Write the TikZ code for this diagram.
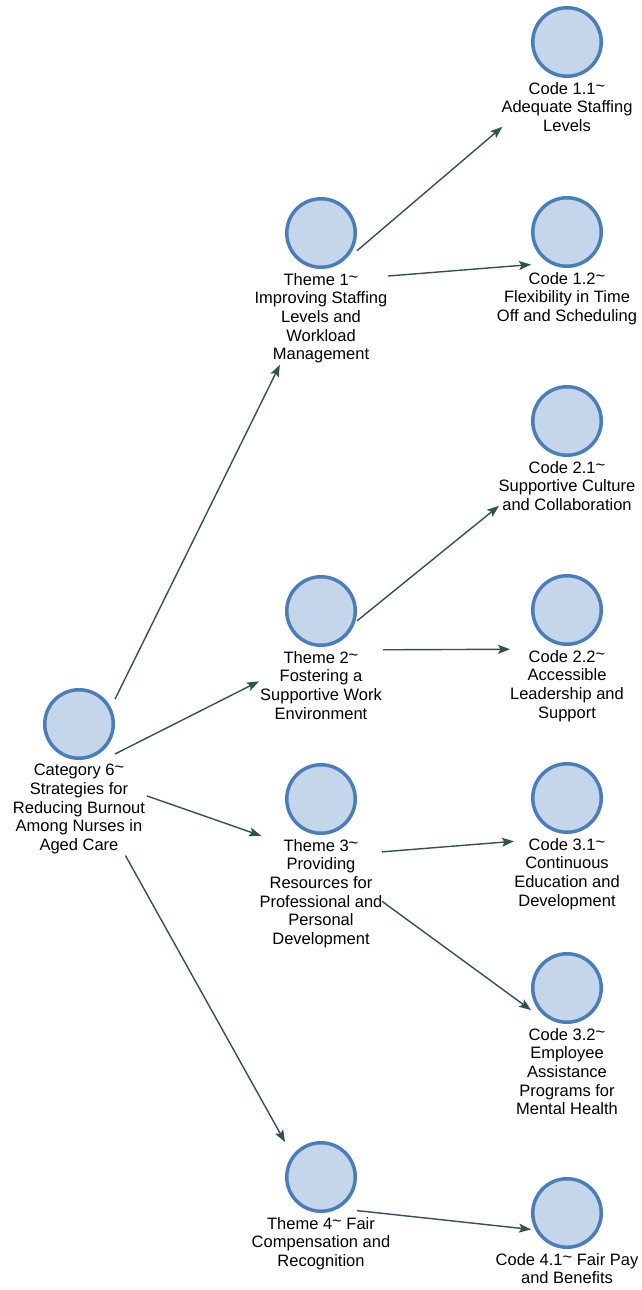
\documentclass[tikz,border=0pt]{standalone}
\usepackage{fontspec}
\setmainfont{Liberation Sans}
\usetikzlibrary{arrows.meta,fit}
\definecolor{dotfill}{RGB}{197,214,234}
\definecolor{dotline}{RGB}{74,126,187}
\definecolor{linkcol}{RGB}{47,82,82}
% raised tilde used after each heading
\newcommand\tld{\raisebox{.18em}{\textasciitilde}}
% circle + caption, grouped into one named node
\newcommand\codenode[4]{%
  \node[dot] (#1d) at (#2,#3) {};
  \node[lbl] (#1l) at (#2,#3+40) {#4\strut};
  \node[fit={(#1d)(#1l)}, inner sep=0pt] (#1) {};}
\begin{document}
\begin{tikzpicture}[x=1pt,y=-1pt,
  dot/.style={circle, draw=dotline, fill=dotfill, line width=3.5pt,
              minimum size=68.5pt, inner sep=0pt},
  lbl/.style={anchor=north, align=center, inner sep=0pt,
              font=\fontsize{16.5}{18.7}\selectfont},
  link/.style={draw=linkcol, line width=1.4pt,
               -{Stealth[length=12pt,width=9pt,inset=2.5pt]}}]
\useasboundingbox (0,0) rectangle (641,1290);

% category
\codenode{cat}{79}{724}{Category 6\tld\\Strategies for\\Reducing Burnout\\Among Nurses in\\Aged Care}

% themes
\codenode{t1}{321}{233}{Theme 1\tld\\Improving Staffing\\Levels and\\Workload\\Management}
\codenode{t2}{321}{611}{Theme 2\tld\\Fostering a\\Supportive Work\\Environment}
\codenode{t3}{321}{799}{Theme 3\tld\\Providing\\Resources for\\Professional and\\Personal\\Development}
\codenode{t4}{321}{1177}{Theme 4\tld{} Fair\\Compensation and\\Recognition}

% codes
\codenode{c11}{567}{42}{Code 1.1\tld\\Adequate Staffing\\Levels}
\codenode{c12}{567}{232}{Code 1.2\tld\\Flexibility in Time\\Off and Scheduling}
\codenode{c21}{567}{421}{Code 2.1\tld\\Supportive Culture\\and Collaboration}
\codenode{c22}{567}{610}{Code 2.2\tld\\Accessible\\Leadership and\\Support}
\codenode{c31}{567}{798}{Code 3.1\tld\\Continuous\\Education and\\Development}
\codenode{c32}{567}{988}{Code 3.2\tld\\Employee\\Assistance\\Programs for\\Mental Health}
\codenode{c41}{567}{1213}{Code 4.1\tld{} Fair Pay\\and Benefits}

% connectors, centre to centre, trimmed to the outline of each group
\draw[link, shorten <=81.4pt, shorten >=93pt]   (cat.center) -- (t1.center);
\draw[link, shorten <=40.3pt, shorten >=69.5pt] (cat.center) -- (t2.center);
\draw[link, shorten <=72pt,   shorten >=63.5pt] (cat.center) -- (t3.center);
\draw[link, shorten <=95.5pt, shorten >=74pt]   (cat.center) -- (t4.center);

\draw[link, shorten <=47.3pt, shorten >=85pt]   (t1.center) -- (c11.center);
\draw[link, shorten <=67.2pt, shorten >=36.1pt] (t1.center) -- (c12.center);
\draw[link, shorten <=46.3pt, shorten >=87.5pt] (t2.center) -- (c21.center);
\draw[link, shorten <=62pt,   shorten >=57pt]   (t2.center) -- (c22.center);
\draw[link, shorten <=61.2pt, shorten >=53.2pt] (t3.center) -- (c31.center);
\draw[link, shorten <=75.5pt, shorten >=44.6pt] (t3.center) -- (c32.center);
\draw[link, shorten <=36.2pt, shorten >=36.2pt] (t4.center) -- (c41.center);
\end{tikzpicture}
\end{document}
